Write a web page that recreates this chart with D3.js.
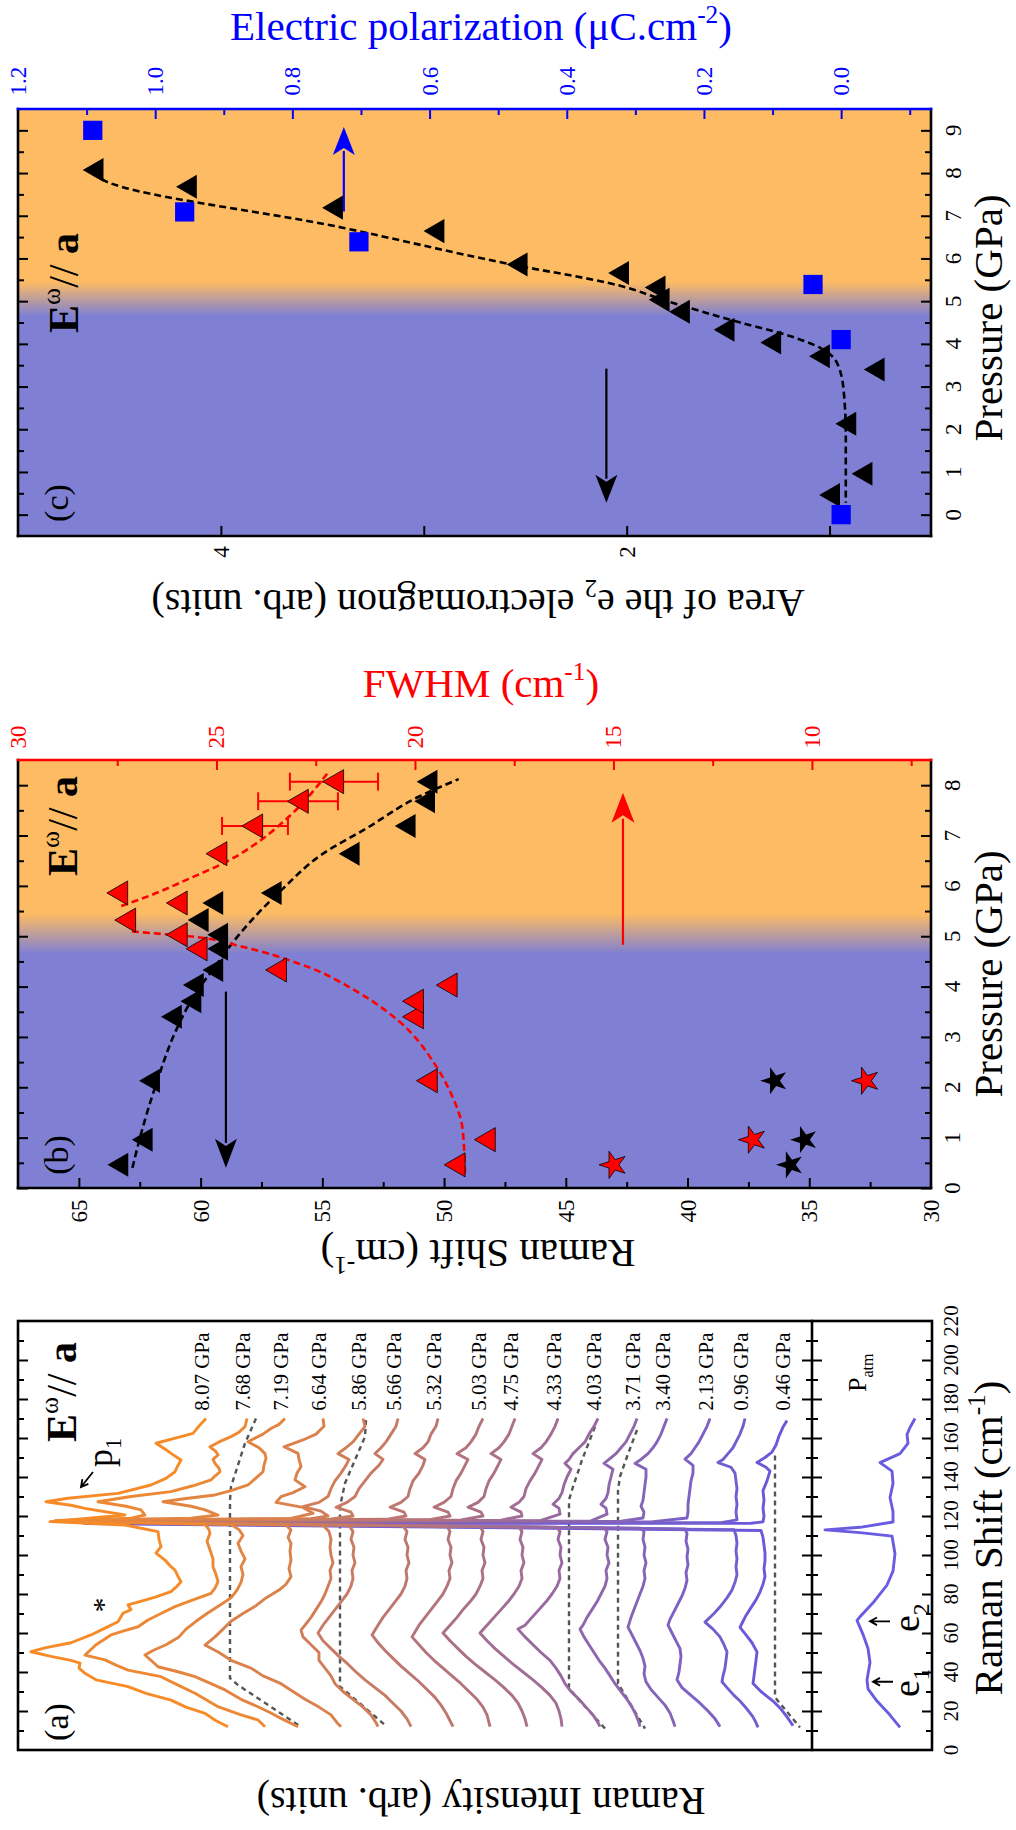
<!DOCTYPE html>
<html><head><meta charset="utf-8">
<script src="https://cdn.jsdelivr.net/npm/d3@7"></script>
<style>body{margin:0;background:#fff} text{font-family:'Liberation Serif','Times New Roman',Times,'DejaVu Serif',serif}</style>
</head><body><svg id="c" width="1016" height="1830"></svg>
<script>
// ---------------- DATA ----------------
const pressB = [0.46,0.96,2.13,3.40,3.71,4.03,4.33,4.75,5.03,5.32,5.66,5.86,6.64,7.19,7.68,8.07];
const shiftE2 = [63.4,62.4,62.1,61.2,60.4,60.3,59.5,59.3,59.3,60.1,59.5,57.1,53.9,51.6,50.8,50.7];
const fwhmE2 = [19.0,18.24,19.7,20.05,20.05,19.2,23.5,25.5,26.0,27.3,26.0,27.5,25.0,24.1,22.95,22.06];
const errP = [7.19,7.68,8.07];
const errLo = [23.2,21.94,20.93];
const errHi = [24.86,23.95,23.15];
const starP = [0.46,0.96,2.13];
const starShift = [35.78,35.2,36.43];
const starFwhm = [15.0,11.49,8.64];
const fitShiftP = [0.40,1.07,2.1,3.14,3.87,4.4,4.8,5.32,5.93,6.63,7.14,7.78,8.12];
const fitShiftV = [62.8,62.45,61.8,61.0,60.2,59.4,58.8,57.9,56.65,55.0,53.2,51.0,49.4];
const fitFwhmLowP = [0.3,1.17,1.89,2.46,3.31,3.87,4.45,4.8,5.0,5.06,5.1];
const fitFwhmLowV = [18.74,18.8,19.1,19.5,20.4,21.4,22.9,24.4,25.7,26.6,27.2];
const fitFwhmHighP = [5.6,5.8,6.14,6.5,6.9,7.43,8.24];
const fitFwhmHighV = [27.4,26.7,25.7,24.7,23.9,23.1,22.2];
const pressC = [8.07,7.68,7.19,6.64,5.86,5.66,5.32,5.03,4.75,4.33,4.03,3.71,3.40,2.13,0.96,0.46];
const areaE2 = [4.63,4.17,3.45,2.95,2.54,2.04,1.86,1.84,1.74,1.52,1.29,1.05,0.78,0.92,0.84,1.0];
const polP = [9.0,7.09,6.39,5.39,4.1,0.0];
const polV = [1.091,0.957,0.703,0.041,0.0,0.0];
const fitAreaP = [8.06,7.87,6.72,5.88,5.37,5.0,4.5,4.22,3.89,3.52,2.88,1.85,0.28];
const fitAreaV = [4.62,4.59,3.4,2.59,2.04,1.8,1.44,1.22,1.04,0.96,0.93,0.92,0.92];
const specLabels = ["8.07","7.68","7.19","6.64","5.86","5.66","5.32","5.03","4.75","4.33","4.03","3.71","3.40","2.13","0.96","0.46"];
const s807 = [[170,725],[166.7,731],[162.4,738],[160.7,750],[157.3,775],[154,765],[152.1,760],[148.7,750],[145,754],[142.7,756],[139.3,765],[135.9,780],[131.6,813],[129.1,863],[127.3,885],[125.5,860],[123.9,846],[120.5,806],[117.1,881],[115.4,806],[112,773],[108,772],[104.3,770],[101,775],[97.4,766],[94,760],[92.3,756],[89,753],[86.3,750],[83.5,755],[81.2,760],[78.5,775],[76.9,786],[74.4,803],[72,800],[70.1,808],[65.8,813],[62,828],[59,840],[55,860],[52.5,885],[50.4,900],[48,880],[46,860],[44.5,851],[42,852],[39.3,846],[36,835],[32.5,803],[29,785],[25.6,760],[22,745],[18.8,726],[15,715],[11.9,703]];
const s768 = [[170,684],[165.8,686],[163,692],[160.7,700],[158,712],[155.5,721],[153,715],[151.3,713],[149,718],[147,716],[144.5,712],[142.7,711],[140.5,716],[138.5,720],[135.5,738],[132.5,760],[130,800],[127.3,833],[125,805],[123.1,790],[120.5,786],[118.9,800],[117.6,876],[115.8,726],[113,722],[111.1,721],[107,724],[102.6,721],[98,718],[94,718],[90,715],[86.3,713],[83,716],[80.3,720],[77,738],[73.5,756],[70,770],[66.7,783],[63.2,793],[61,808],[59,820],[54,835],[48.7,846],[46.2,826],[43.5,815],[41,803],[37.6,770],[33,752],[29.1,736],[25.5,724],[22.2,713],[18,690],[15.4,673],[11.9,666]];
const s719 = [[170,646],[167,652],[164.9,660],[162,668],[158.1,683],[155,672],[152,666],[149.6,665],[146,667],[142.7,668],[139,676],[135.9,683],[133,700],[130.8,716],[129,745],[127.3,768],[125,740],[123.1,726],[120.5,713],[118.9,740],[117.7,873],[115.6,700],[113,692],[110,688],[106,693],[102,690],[98,686],[94,690],[90,688],[86,690],[82,694],[78,700],[74,712],[70,724],[66,735],[62,745],[58,752],[54,765],[51,778],[48.7,786],[46,780],[42.7,773],[40,752],[37.6,736],[34,720],[30.8,706],[26,690],[22.2,673],[19,660],[16.2,650],[11.9,633]];
const s664 = [[170,608],[166,607],[162,615],[159,628],[155.5,647],[152.1,633],[149,632],[145.3,630],[142,634],[138.5,636],[135,626],[132,638],[129.9,650],[127,655],[124.4,628],[121.4,618],[118.8,640],[117.6,871],[115.4,645],[112.8,640],[109,643],[106,640],[102,641],[97.4,640],[93,642],[88.9,640],[85,645],[82,652],[78,665],[74,675],[70,688],[66,700],[62,708],[58,716],[53.8,726],[50,712],[46,700],[42,680],[38,668],[34,650],[30,638],[26,626],[22,612],[18,600],[14,594],[11.9,590]];
const s586 = [[170,568],[166,566],[162,572],[158,578],[155,585],[152,593],[149,582],[146,585],[142,590],[138,596],[134,600],[130,603],[127,612],[124.8,628],[122.5,610],[120,603],[118.6,620],[117.5,868],[115.3,608],[112,602],[108,600],[104,601],[100,600],[96,598],[92,601],[88,600],[84,603],[80,606],[76,610],[72,615],[68,620],[64,626],[61.5,630],[58,628],[54,620],[50,612],[46,612],[42,606],[38,600],[34,596],[30,588],[26,578],[22,568],[18,560],[14,555],[12,553]];
const s566 = [[170,533],[166,535],[162,540],[158,545],[155,550],[152,556],[149,548],[146,552],[142,560],[138,566],[134,572],[130,576],[127,584],[124.5,595],[122,580],[120,578],[118.5,600],[117.4,866],[115.2,582],[112,578],[108,580],[104,577],[100,578],[96,576],[92,579],[88,578],[84,580],[80,584],[76,590],[72,596],[68,602],[64,608],[60,613],[56,608],[52,600],[48,592],[44,583],[40,575],[36,566],[32,556],[28,546],[24,538],[20,530],[16,524],[12,520]];
const s532 = [[170,493],[166,495],[162,500],[158,503],[155,508],[152,516],[149,506],[146,508],[142,512],[138,518],[134,521],[130,523],[127,530],[124.5,541],[122,527],[120,525],[118.3,545],[117.3,864],[115,528],[112,524],[108,526],[104,523],[100,524],[96,522],[92,525],[88,524],[84,526],[80,530],[76,536],[72,542],[68,548],[64,553],[59,559],[55,553],[51,546],[47,538],[43,530],[39,521],[35,512],[31,504],[27,496],[23,490],[19,485],[15,481],[12,478]];
const s503 = [[170,448],[166,452],[162,455],[158,460],[155,465],[152,474],[149,463],[146,466],[142,470],[138,475],[134,478],[130,480],[127,487],[124.5,497],[122,483],[120,481],[118.2,500],[117.2,862],[114.8,484],[112,481],[108,483],[104,480],[100,481],[96,479],[92,482],[88,481],[84,484],[80,488],[76,494],[72,500],[68,506],[64,512],[58,519],[54,512],[50,505],[46,497],[42,488],[38,479],[34,470],[30,462],[26,454],[22,448],[18,444],[14,442],[12,441]];
const s475 = [[170,416],[166,419],[162,422],[158,427],[155,432],[152,440],[149,430],[146,433],[142,437],[138,442],[134,445],[130,447],[127,453],[124.5,463],[122,450],[120,448],[118,470],[117.1,860],[114.6,451],[112,448],[108,450],[104,447],[100,448],[96,446],[92,449],[88,448],[84,451],[80,455],[76,461],[72,468],[68,474],[64,481],[60,488],[56,481],[52,473],[48,465],[44,456],[40,446],[36,436],[32,427],[28,419],[24,413],[20,409],[16,406],[12,404]];
const s433 = [[170,373],[166,376],[162,380],[158,385],[155,390],[152,398],[149,389],[146,392],[142,396],[138,401],[134,405],[130,407],[127,412],[124.5,420],[122,410],[120,409],[117.9,430],[117.0,858],[114.4,412],[112,409],[108,411],[104,408],[100,409],[96,407],[92,410],[88,409],[84,412],[80,417],[76,423],[72,430],[68,437],[64,444],[60,451],[56,444],[52,436],[48,427],[44,418],[40,408],[36,398],[32,389],[28,381],[24,375],[20,372],[16,370],[12,369]];
const s403 = [[170,333],[166,337],[162,342],[158,346],[155,352],[152,358],[149,362],[147,366],[144,360],[140,364],[136,367],[132,369],[129,372],[126,378],[124,372],[121,371],[117.7,390],[116.9,856],[114.2,374],[112,371],[108,373],[104,370],[100,371],[96,369],[92,372],[88,371],[84,374],[80,379],[76,385],[72,392],[68,399],[64,406],[62,413],[58,406],[54,398],[50,390],[46,381],[42,375],[38,370],[34,366],[30,360],[26,352],[22,345],[18,338],[14,333],[12,331]];
const s371 = [[170,294],[166,297],[162,301],[158,305],[155,310],[152,315],[149,322],[147,327],[144,318],[140,320],[136,322],[132,323],[129,325],[126,330],[124,325],[121,324],[117.5,340],[116.8,854],[113.9,327],[112,324],[108,326],[104,323],[100,324],[96,322],[92,325],[88,324],[84,326],[80,330],[76,334],[72,339],[68,344],[64,348],[62,351],[58,347],[54,342],[50,337],[46,332],[42,326],[38,321],[34,316],[30,310],[26,304],[22,299],[18,295],[14,292],[12,291]];
const s340 = [[170,264],[166,267],[162,270],[158,274],[155,278],[152,283],[149,290],[147,296],[144,285],[140,285],[136,286],[132,287],[128,288],[125,290],[122,287],[119,288],[117.3,310],[116.7,852],[113.7,290],[112,287],[108,288],[104,286],[100,287],[96,285],[92,287],[88,286],[84,288],[80,291],[76,294],[72,297],[68,300],[63,303],[59,299],[55,295],[51,291],[47,288],[43,286],[39,287],[35,285],[31,280],[27,273],[23,266],[19,261],[15,258],[12,256]];
const s213 = [[170,221],[166,224],[162,228],[158,232],[155,236],[152,240],[149.2,246],[146,238],[142,238],[138,240],[134,241],[130,242],[126,243],[122,243],[119,244],[117,280],[116.6,850],[113.4,246],[111,244],[107,245],[103,243],[99,244],[95,243],[91,245],[87,244],[83,246],[79,249],[75,253],[71,257],[67,261],[64,263],[60,259],[56,255],[52,251],[48,250],[44,251],[40,252],[36,254],[32,249],[28,240],[24,231],[20,223],[16,216],[12,211]];
const s096 = [[170,186],[166,188],[162,191],[158,195],[155,198],[152,203],[149,208],[147.4,213],[145,200],[142,196],[138,195],[134,194],[130,195],[126,194],[122,195],[118,194],[116.6,210],[116.4,848],[113,197],[110,195],[106,194],[102,195],[98,194],[94,195],[90,194],[86,196],[82,199],[78,204],[74,210],[70,217],[65.6,226],[62,218],[58,211],[54,207],[50.3,204],[46,205],[42,206],[38,208],[35,209],[32,204],[28,197],[25.1,191],[21,184],[17,178],[14,175],[11.6,173]];
const s046 = [[169,144],[165.6,148],[161,152],[156.4,155],[152.8,159],[150,166],[147.4,174],[145,165],[143,161],[138,164],[133,168],[128,167],[124,168],[120,167],[117,168],[116.3,180],[116.1,845],[112.6,170],[109,168],[105,167],[101,166],[97,166],[93,167],[89,166],[85,168],[81,171],[77,175],[73,180],[69,185],[65,189],[62.9,191],[59,185],[55,179],[50.3,174],[46,175],[42,176],[38,177],[34.1,178],[30,170],[25.1,158],[21,150],[17,144],[14,140],[12.5,138]];
const sPatm = [[170,16],[165.4,21],[161.8,24],[157.3,23],[152,31],[147.4,51],[143,39],[136.7,38],[129.5,41],[122.3,38],[116.9,38],[114.2,71],[112.9,106],[111.5,71],[109.7,39],[100.7,36],[91.7,38],[84.6,44],[75.5,58],[68.3,71],[66.5,74],[59.3,68],[52.1,63],[44.9,61],[35.9,64],[31.4,63],[25.1,54],[17.9,41],[11.6,31]];
const bg768 = [[170,675],[157.3,686],[135,700],[128,701],[36.8,701],[33.3,693],[11.9,630]];
const bg586 = [[169.2,565],[160.7,566],[148.7,576],[136.8,586],[124.8,591],[32.5,591],[29.1,583],[12.8,546]];
const bg403 = [[165.8,336],[148.7,349],[135,358],[128.2,362],[32,362],[28,356],[11,326]];
const bg371 = [[164.1,294],[150.4,304],[140.2,311],[133.3,313],[34.2,313],[29.9,308],[11,286]];
const bg046 = [[151,156],[27,156],[11.6,131]];
const ramanTicks = [0,20,40,60,80,100,120,140,160,180,200,220];

// ---------------- DRAW ----------------
const svg = d3.select("#c");
const FONT = "'Liberation Serif','Times New Roman',Times,'DejaVu Serif',serif";
const ORANGE = "#FDBB63", BLUE = "#7F80D3";

function rich(parent, x, y, rot, parts, size, opts = {}) {
  const t = parent.append("text")
    .attr("transform", `translate(${x},${y}) rotate(${rot})`)
    .style("font-family", FONT)
    .attr("font-size", size).attr("fill", opts.color || "#000")
    .attr("text-anchor", opts.anchor || "middle");
  let off = 0;
  parts.forEach(p => {
    const [str, kind] = Array.isArray(p) ? p : [p, ""];
    let target = 0, fs = size;
    if (kind === "sup") { target = -0.42 * size; fs = 0.62 * size; }
    if (kind === "sub") { target = 0.25 * size; fs = 0.62 * size; }
    const ts = t.append("tspan").attr("font-size", fs).attr("dy", target - off).text(str);
    if (kind === "b") ts.attr("font-weight", "bold");
    off = target;
  });
  return t;
}
function ticks(axisFn, scale, values, size, tx, ty, color) {
  const g = svg.append("g").attr("transform", `translate(${tx},${ty})`)
    .call(axisFn(scale).tickValues(values).tickSize(size).tickSizeOuter(0).tickFormat(""));
  g.select(".domain").remove();
  g.selectAll("line").attr("stroke", color || "#000").attr("stroke-width", 2);
}
function frameLine(x1, y1, x2, y2, color) {
  svg.append("line").attr("x1", x1).attr("y1", y1).attr("x2", x2).attr("y2", y2)
    .attr("stroke", color || "#000").attr("stroke-width", 2.6).attr("stroke-linecap", "square");
}
function arrow(x1, y1, x2, y2, color, hw, hl) {
  const len = Math.hypot(x2 - x1, y2 - y1), ux = (x2 - x1) / len, uy = (y2 - y1) / len;
  const bx = x2 - ux * hl, by = y2 - uy * hl;
  svg.append("line").attr("x1", x1).attr("y1", y1).attr("x2", bx + ux * 4).attr("y2", by + uy * 4)
    .attr("stroke", color).attr("stroke-width", 2.2);
  svg.append("path").attr("d", `M${x2},${y2}L${bx - uy * hw / 2},${by + ux * hw / 2}L${bx + ux * hl * 0.25},${by + uy * hl * 0.25}L${bx + uy * hw / 2},${by - ux * hw / 2}Z`)
    .attr("fill", color);
}
function background(id, yScale, y0, y1) {
  const grad = svg.append("defs").append("linearGradient").attr("id", id)
    .attr("gradientUnits", "userSpaceOnUse").attr("x1", 0).attr("x2", 0)
    .attr("y1", yScale(4.65)).attr("y2", yScale(5.45));
  grad.append("stop").attr("offset", 0).attr("stop-color", BLUE);
  grad.append("stop").attr("offset", 1).attr("stop-color", ORANGE);
  svg.append("rect").attr("x", 18).attr("y", y0).attr("width", 913).attr("height", y1 - y0).attr("fill", `url(#${id})`);
}
const tri = d3.symbol().type(d3.symbolTriangle).size(250);
const star = d3.symbol().type(d3.symbolStar).size(230);
const sq = d3.symbol().type(d3.symbolSquare).size(370);

// ===== Panel (c) =====
const yPc = d3.scaleLinear().domain([-0.5, 9.5]).range([536, 109]);
const xA = d3.scaleLinear().domain([5.0, 0.5]).range([18, 931]);
const xPol = d3.scaleLinear().domain([1.2, -0.131]).range([18, 931]);
background("gc", yPc, 109, 536);
const pInt9 = d3.range(0, 10), pHalf9 = d3.range(0.5, 9.5, 1);
ticks(d3.axisRight, yPc, pInt9, 10, 18, 0); ticks(d3.axisRight, yPc, pHalf9, 6, 18, 0);
ticks(d3.axisLeft, yPc, pInt9, 10, 931, 0); ticks(d3.axisLeft, yPc, pHalf9, 6, 931, 0);
ticks(d3.axisTop, xA, [1, 2, 3, 4], 10, 0, 536);
ticks(d3.axisBottom, xPol, [0, 0.2, 0.4, 0.6, 0.8, 1.0], 10, 0, 109, "#0000FF");
ticks(d3.axisBottom, xPol, [-0.1, 0.1, 0.3, 0.5, 0.7, 0.9, 1.1], 6, 0, 109, "#0000FF");
frameLine(18, 109, 18, 536); frameLine(931, 109, 931, 536); frameLine(18, 536, 931, 536);
frameLine(18, 109, 931, 109, "#0000FF");
svg.append("path").attr("d", d3.line().curve(d3.curveMonotoneY).x((d, i) => xA(fitAreaV[i])).y(d => yPc(d))(fitAreaP))
  .attr("fill", "none").attr("stroke", "#000").attr("stroke-width", 2.6).attr("stroke-dasharray", "7,4");
arrow(xPol(0.725), yPc(7.1), xPol(0.725), yPc(9.08), "#0000FF", 22, 28);
arrow(xA(2.10), yPc(3.42), xA(2.10), yPc(0.28), "#000", 22, 28);
pressC.forEach((p, i) => svg.append("path").attr("d", tri()).attr("fill", "#000")
  .attr("transform", `translate(${xA(areaE2[i]) + 3.5},${yPc(p)}) rotate(-90)`));
polP.forEach((p, i) => svg.append("path").attr("d", sq()).attr("fill", "#0000FF")
  .attr("transform", `translate(${xPol(polV[i])},${yPc(p)})`));
pInt9.forEach(v => rich(svg, 961, yPc(v), -90, [String(v)], 23));
[2, 4].forEach(v => rich(svg, xA(v) + 8, 552, -90, [String(v)], 23));
[0, 0.2, 0.4, 0.6, 0.8, 1.0, 1.2].forEach(v => rich(svg, xPol(v) + 8, 81, -90, [v.toFixed(1)], 23, { color: "#0000FF" }));
rich(svg, 1002, 318, -90, ["Pressure (GPa)"], 41);
rich(svg, 481, 40, 0, ["Electric polarization (\u03BCC.cm", ["-2", "sup"], ")"], 41, { color: "#0000FF" });
rich(svg, 478, 590, 180, ["Area of the e", ["2", "sub"], " electromagnon (arb. units)"], 40);
rich(svg, 68, 503, -90, ["(c)"], 34);
rich(svg, 78, 333, -90, [["E", "b"], ["\u03C9", "sup"], "// ", ["a", "b"]], 42, { anchor: "start" });

// ===== Panel (b) =====
const yPb = d3.scaleLinear().domain([0, 8.5]).range([1188, 760]);
const xR = d3.scaleLinear().domain([67.5, 30]).range([18, 931]);
const xF = d3.scaleLinear().domain([30, 7]).range([18, 931]);
background("gb", yPb, 760, 1188);
const pInt8 = d3.range(0, 9), pHalf8 = d3.range(0.5, 8.5, 1);
ticks(d3.axisRight, yPb, pInt8, 10, 18, 0); ticks(d3.axisRight, yPb, pHalf8, 6, 18, 0);
ticks(d3.axisLeft, yPb, pInt8, 10, 931, 0); ticks(d3.axisLeft, yPb, pHalf8, 6, 931, 0);
ticks(d3.axisTop, xR, d3.range(35, 66, 5), 10, 0, 1188); ticks(d3.axisTop, xR, d3.range(32.5, 66, 5), 6, 0, 1188);
ticks(d3.axisBottom, xF, [10, 15, 20, 25], 10, 0, 760, "#FF0000"); ticks(d3.axisBottom, xF, [7.5, 12.5, 17.5, 22.5, 27.5], 6, 0, 760, "#FF0000");
frameLine(18, 760, 18, 1188); frameLine(931, 760, 931, 1188); frameLine(18, 1188, 931, 1188);
frameLine(18, 760, 931, 760, "#FF0000");
const dash = (pts, col) => svg.append("path").attr("d", d3.line().curve(d3.curveMonotoneY).x(d => d[0]).y(d => d[1])(pts))
  .attr("fill", "none").attr("stroke", col).attr("stroke-width", 2.6).attr("stroke-dasharray", "7,4");
dash(fitShiftP.map((p, i) => [xR(fitShiftV[i]), yPb(p)]), "#000");
dash(fitFwhmLowP.map((p, i) => [xF(fitFwhmLowV[i]), yPb(p)]), "#FF0000");
dash(fitFwhmHighP.map((p, i) => [xF(fitFwhmHighV[i]), yPb(p)]), "#FF0000");
arrow(xR(58.96), yPb(3.9), xR(58.96), yPb(0.4), "#000", 22, 29);
arrow(xF(14.76), yPb(4.83), xF(14.76), yPb(7.85), "#FF0000", 23, 30);
errP.forEach((p, i) => {
  const y = yPb(p);
  svg.append("line").attr("x1", xF(errLo[i])).attr("x2", xF(errHi[i])).attr("y1", y).attr("y2", y).attr("stroke", "#FF0000").attr("stroke-width", 2);
  [errLo[i], errHi[i]].forEach(v => svg.append("line").attr("x1", xF(v)).attr("x2", xF(v)).attr("y1", y - 9).attr("y2", y + 9).attr("stroke", "#FF0000").attr("stroke-width", 2));
});
pressB.forEach((p, i) => svg.append("path").attr("d", tri()).attr("fill", "#000")
  .attr("transform", `translate(${xR(shiftE2[i]) + 3.5},${yPb(p)}) rotate(-90)`));
pressB.forEach((p, i) => svg.append("path").attr("d", tri()).attr("fill", "#FF0000").attr("stroke", "#000").attr("stroke-width", 0.8)
  .attr("transform", `translate(${xF(fwhmE2[i]) + 3.5},${yPb(p)}) rotate(-90)`));
starP.forEach((p, i) => {
  svg.append("path").attr("d", star()).attr("fill", "#000").attr("transform", `translate(${xR(starShift[i])},${yPb(p)}) rotate(-90)`);
  svg.append("path").attr("d", star()).attr("fill", "#FF0000").attr("stroke", "#000").attr("stroke-width", 0.8).attr("transform", `translate(${xF(starFwhm[i])},${yPb(p)}) rotate(-90)`);
});
pInt8.forEach(v => rich(svg, 960, yPb(v), -90, [String(v)], 23));
d3.range(30, 66, 5).forEach(v => rich(svg, xR(v) + 8, 1211, -90, [String(v)], 23));
[10, 15, 20, 25, 30].forEach(v => rich(svg, xF(v) + 8, 737, -90, [String(v)], 23, { color: "#FF0000" }));
rich(svg, 1002, 974, -90, ["Pressure (GPa)"], 41);
rich(svg, 481, 697, 0, ["FWHM (cm", ["-1", "sup"], ")"], 41, { color: "#FF0000" });
rich(svg, 478, 1240, 180, ["Raman Shift (cm", ["-1", "sup"], ")"], 41);
rich(svg, 68, 1155, -90, ["(b)"], 34);
rich(svg, 77, 876, -90, [["E", "b"], ["\u03C9", "sup"], "// ", ["a", "b"]], 42, { anchor: "start" });

// ===== Panel (a) =====
const yW = d3.scaleLinear().domain([0, 220]).range([1750, 1321]);
const xI = d3.scaleLinear().domain([0, 913]).range([931, 18]);
const major = d3.range(20, 220, 20), minor = d3.range(10, 220, 20);
ticks(d3.axisRight, yW, major, 10, 18, 0); ticks(d3.axisRight, yW, minor, 6, 18, 0);
ticks(d3.axisLeft, yW, major, 10, 932, 0); ticks(d3.axisLeft, yW, minor, 6, 932, 0);
ticks(d3.axisLeft, yW, major, 10, 812, 0); ticks(d3.axisRight, yW, major, 10, 812, 0);
ticks(d3.axisLeft, yW, minor, 6, 812, 0); ticks(d3.axisRight, yW, minor, 6, 812, 0);
svg.append("rect").attr("x", 18).attr("y", 1321).attr("width", 914).attr("height", 429)
  .attr("fill", "none").attr("stroke", "#000").attr("stroke-width", 2.6);
frameLine(812, 1321, 812, 1750);
const line = d3.line().x(d => xI(d[1])).y(d => yW(d[0]));
const spectra = [s807, s768, s719, s664, s586, s566, s532, s503, s475, s433, s403, s371, s340, s213, s096, s046];
const col = d3.scaleLinear().domain([0, 15]).range(["#F68B28", "#6A5ADB"]).interpolate(d3.interpolateRgb);
[bg768, bg586, bg403, bg371, bg046].forEach(b => svg.append("path").attr("d", line(b)).attr("fill", "none")
  .attr("stroke", "#555").attr("stroke-width", 2.4).attr("stroke-dasharray", "5,4"));
for (let i = spectra.length - 1; i >= 0; i--) {
  svg.append("path").attr("d", line(spectra[i])).attr("fill", "none").attr("stroke", col(i))
    .attr("stroke-width", 2.9).attr("stroke-linejoin", "round");
}
svg.append("path").attr("d", line(sPatm)).attr("fill", "none").attr("stroke", "#6A5CE0")
  .attr("stroke-width", 2.9).attr("stroke-linejoin", "round");
spectra.forEach((s, i) => rich(svg, xI(s[0][1]) + 3, yW(174), -90, [specLabels[i] + " GPa"], 21, { anchor: "start" }));
ramanTicks.forEach(v => rich(svg, 958, yW(v), -90, [String(v)], 21));
rich(svg, 1002, 1538, -90, ["Raman Shift (cm", ["-1", "sup"], ")"], 41);
rich(svg, 481, 1788, 180, ["Raman Intensity (arb. units)"], 40);
rich(svg, 68, 1722, -90, ["(a)"], 34);
rich(svg, 76, 1442, -90, [["E", "b"], ["\u03C9", "sup"], "// ", ["a", "b"]], 42, { anchor: "start" });
rich(svg, 112, 1467, -90, ["p", ["1", "sub"]], 36, { anchor: "start" });
rich(svg, 113, 1605, -90, ["*"], 30);
rich(svg, 866, 1392, -90, ["P", ["atm", "sub"]], 26, { anchor: "start" });
rich(svg, 919, 1697, -90, ["e", ["1", "sub"]], 38, { anchor: "start" });
rich(svg, 919, 1632, -90, ["e", ["2", "sub"]], 38, { anchor: "start" });
function thinArrow(x1, y1, x2, y2) {
  const a = Math.atan2(y2 - y1, x2 - x1), h = 8;
  svg.append("path").attr("d", `M${x1},${y1}L${x2},${y2}M${x2 - h * Math.cos(a - 0.5)},${y2 - h * Math.sin(a - 0.5)}L${x2},${y2}L${x2 - h * Math.cos(a + 0.5)},${y2 - h * Math.sin(a + 0.5)}`)
    .attr("fill", "none").attr("stroke", "#000").attr("stroke-width", 1.8);
}
thinArrow(93, 1472, 81, 1487);
thinArrow(893, yW(35), 873, yW(35));
thinArrow(890, yW(66), 870, yW(66));
</script></body></html>
